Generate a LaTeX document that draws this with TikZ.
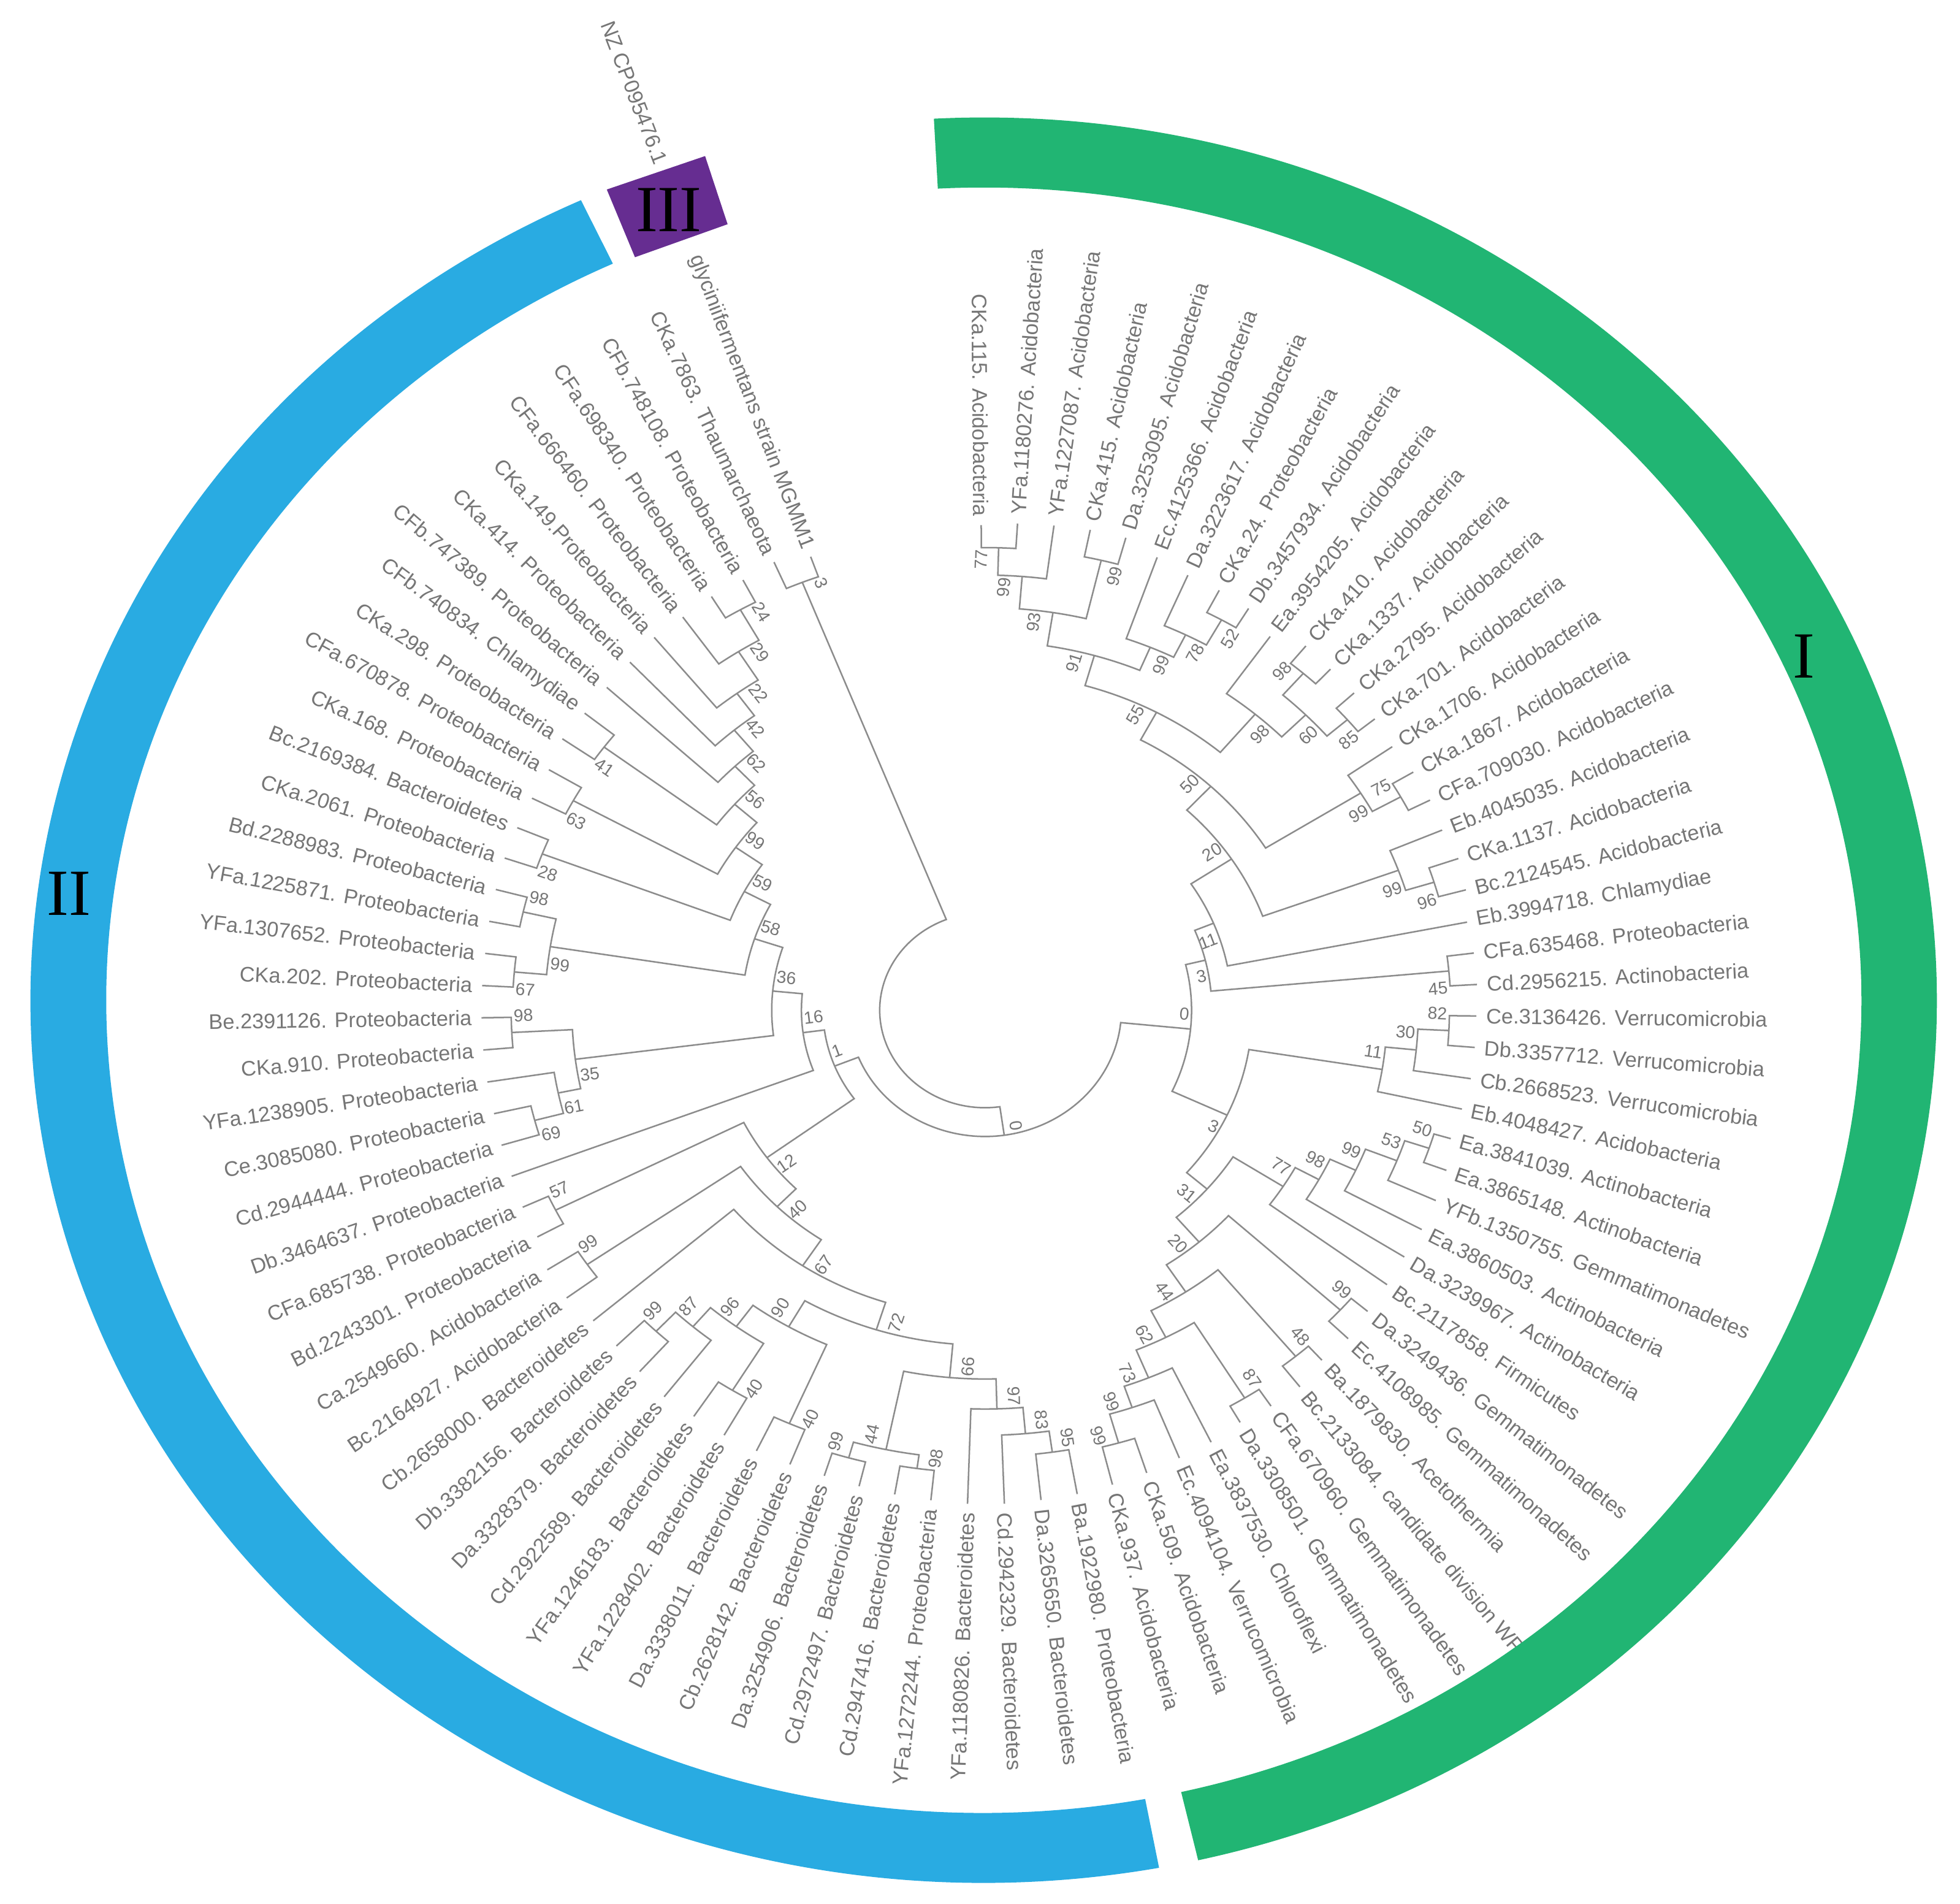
\documentclass[tikz,border=0pt]{standalone}
\usepackage{fontspec}
\setmainfont{Liberation Sans}
\newfontfamily\romanfont{Liberation Serif}
\definecolor{lc}{RGB}{140,140,140}
\definecolor{tc}{RGB}{118,118,118}
\definecolor{cgreen}{RGB}{33,181,115}
\definecolor{cblue}{RGB}{41,171,226}
\definecolor{cpurple}{RGB}{102,45,145}
\tikzset{
  br/.style={draw=lc,line width=0.7pt},
  leaflab/.style={text=tc,font=\fontsize{9.6}{11}\selectfont,inner sep=0pt},
  bslab/.style={text=tc,font=\fontsize{7.9}{9}\selectfont,inner sep=1pt},
  roman/.style={font=\romanfont\fontsize{30}{34}\selectfont,text=black,inner sep=0pt},
}
\newcommand\TLeaf[4]{%
  \pgfmathsetmacro\tla{109.6+(#2-1)*3.963}%
  \expandafter\xdef\csname tA#1\endcsname{\tla}%
  \expandafter\xdef\csname tR#1\endcsname{#3}%
  \pgfmathsetmacro\tlp{#3+7}%
  \pgfmathsetmacro\tlr{atan2(sin(\tla),1.08*cos(\tla))}%
  \pgfmathtruncatemacro\tll{(mod(\tla,360)>90)&&(mod(\tla,360)<270)}%
  \ifnum\tll=1
    \pgfmathsetmacro\tlr{\tlr+180}%
    \node[leaflab,anchor=east,rotate=\tlr] (#1) at (\tla:\tlp) {#4};%
  \else
    \node[leaflab,anchor=west,rotate=\tlr] (#1) at (\tla:\tlp) {#4};%
  \fi}
\newcommand\TNode[6]{%
  \pgfmathsetmacro\tna{\csname tA#2\endcsname}%
  \pgfmathsetmacro\tnb{\csname tA#3\endcsname}%
  \edef\tra{\csname tR#2\endcsname}%
  \edef\trb{\csname tR#3\endcsname}%
  \pgfmathsetmacro\tnm{(\tna+\tnb)/2}%
  \expandafter\xdef\csname tA#1\endcsname{\tnm}%
  \expandafter\xdef\csname tR#1\endcsname{#4}%
  \draw[br] (\tna:\tra) -- (\tna:#4) arc[start angle=\tna,end angle=\tnb,radius=#4] -- (\tnb:\trb);%
  \ifx\relax#5\relax\else
    \pgfmathsetmacro\tnp{\tnm+(#6)*(2.2-#4/300)}%
    \pgfmathsetmacro\tnr{atan2(sin(\tnm),1.08*cos(\tnm))}%
    \pgfmathtruncatemacro\tnl{(mod(\tnm,360)>90)&&(mod(\tnm,360)<270)}%
    \ifnum\tnl=1
      \pgfmathsetmacro\tnr{\tnr+180}%
      \ifnum#6>0 \def\tanc{north west}\else\def\tanc{south west}\fi
    \else
      \ifnum#6>0 \def\tanc{south east}\else\def\tanc{north east}\fi
    \fi
    \node[bslab,anchor=\tanc,rotate=\tnr] (b#1) at (\tnp:#4) {#5};%
  \fi}
\begin{document}
\begin{tikzpicture}[x=0.02cm,y=0.02cm]
\fill[white] (0,0) rectangle (1568,1522.4);
\useasboundingbox (0,0) rectangle (1568,1522.4);
\begin{scope}[shift={(788,714.4)},xscale=1.08]
\TLeaf{L1}{1}{385}{NZ CP095476.1\hspace{45pt}glyciniifermentans strain MGMM1}
\TLeaf{L2}{2}{391}{CKa.7863. Thaumarchaeota}
\TLeaf{L3}{3}{388}{CFb.748108. Proteobacteria}
\TLeaf{L4}{4}{388}{CFa.698340. Proteobacteria}
\TLeaf{L5}{5}{386}{CFa.666460. Proteobacteria}
\TLeaf{L6}{6}{386}{CKa.149.Proteobacteria}
\TLeaf{L7}{7}{383}{CKa.414. Proteobacteria}
\TLeaf{L8}{8}{381}{CFb.747389. Proteobacteria}
\TLeaf{L9}{9}{380}{CFb.740834. Chlamydiae}
\TLeaf{L10}{10}{381}{CKa.298. Proteobacteria}
\TLeaf{L11}{11}{376}{CFa.670878. Proteobacteria}
\TLeaf{L12}{12}{376}{CKa.168. Proteobacteria}
\TLeaf{L13}{13}{376}{Bc.2169384. Bacteroidetes}
\TLeaf{L14}{14}{376}{CKa.2061. Proteobacteria}
\TLeaf{L15}{15}{375}{Bd.2288983. Proteobacteria}
\TLeaf{L16}{16}{374}{YFa.1225871. Proteobacteria}
\TLeaf{L17}{17}{373}{YFa.1307652. Proteobacteria}
\TLeaf{L18}{18}{373}{CKa.202. Proteobacteria}
\TLeaf{L19}{19}{373}{Be.2391126. Proteobacteria}
\TLeaf{L20}{20}{373}{CKa.910. Proteobacteria}
\TLeaf{L21}{21}{373}{YFa.1238905. Proteobacteria}
\TLeaf{L22}{22}{373}{Ce.3085080. Proteobacteria}
\TLeaf{L23}{23}{374}{Cd.2944444. Proteobacteria}
\TLeaf{L24}{24}{375}{Db.3464637. Proteobacteria}
\TLeaf{L25}{25}{377}{CFa.685738. Proteobacteria}
\TLeaf{L26}{26}{378}{Bd.2243301. Proteobacteria}
\TLeaf{L27}{27}{385}{Ca.2549660. Acidobacteria}
\TLeaf{L28}{28}{386}{Bc.2164927. Acidobacteria}
\TLeaf{L29}{29}{382}{Cb.2658000. Bacteroidetes}
\TLeaf{L30}{30}{383}{Db.3382156. Bacteroidetes}
\TLeaf{L31}{31}{386}{Da.3328379. Bacteroidetes}
\TLeaf{L32}{32}{390}{Cd.2922589. Bacteroidetes}
\TLeaf{L33}{33}{390}{YFa.1246183. Bacteroidetes}
\TLeaf{L34}{34}{391}{YFa.1228402. Bacteroidetes}
\TLeaf{L35}{35}{391}{Da.3338011. Bacteroidetes}
\TLeaf{L36}{36}{391}{Cb.2628142. Bacteroidetes}
\TLeaf{L37}{37}{391}{Da.3254906. Bacteroidetes}
\TLeaf{L38}{38}{392}{Cd.2972497. Bacteroidetes}
\TLeaf{L39}{39}{393}{Cd.2947416. Bacteroidetes}
\TLeaf{L40}{40}{394}{YFa.1272244. Proteobacteria}
\TLeaf{L41}{41}{395}{YFa.1180826. Bacteroidetes}
\TLeaf{L42}{42}{395}{Cd.2942329. Bacteroidetes}
\TLeaf{L43}{43}{394}{Da.3265650. Bacteroidetes}
\TLeaf{L44}{44}{393}{Ba.1922980. Proteobacteria}
\TLeaf{L45}{45}{391}{CKa.937. Acidobacteria}
\TLeaf{L46}{46}{389}{CKa.509. Acidobacteria}
\TLeaf{L47}{47}{386}{Ec.4094104. Verrucomicrobia}
\TLeaf{L48}{48}{384}{Ea.3837530. Chloroflexi}
\TLeaf{L49}{49}{380}{Da.3308501. Gemmatimonadetes}
\TLeaf{L50}{50}{381}{CFa.670960. Gemmatimonadetes}
\TLeaf{L51}{51}{381}{Bc.2133084. candidate division WP}
\TLeaf{L52}{52}{375}{Ba.1879830. Acetothermia}
\TLeaf{L53}{53}{376}{Ec.4108985. Gemmatimonadetes}
\TLeaf{L54}{54}{372}{Da.3249436. Gemmatimonadetes}
\TLeaf{L55}{55}{370}{Bc.2117858. Firmicutes}
\TLeaf{L56}{56}{368}{Da.3239967. Actinobacteria}
\TLeaf{L57}{57}{368}{Ea.3860503. Actinobacteria}
\TLeaf{L58}{58}{367}{YFb.1350755. Gemmatimonadetes}
\TLeaf{L59}{59}{365}{Ea.3865148. Actinobacteria}
\TLeaf{L60}{60}{360}{Ea.3841039. Actinobacteria}
\TLeaf{L61}{61}{362}{Eb.4048427. Acidobacteria}
\TLeaf{L62}{62}{364}{Cb.2668523. Verrucomicrobia}
\TLeaf{L63}{63}{364}{Db.3357712. Verrucomicrobia}
\TLeaf{L64}{64}{364}{Ce.3136426. Verrucomicrobia}
\TLeaf{L65}{65}{365}{Cd.2956215. Actinobacteria}
\TLeaf{L66}{66}{365}{CFa.635468. Proteobacteria}
\TLeaf{L67}{67}{364}{Eb.3994718. Chlamydiae}
\TLeaf{L68}{68}{369}{Bc.2124545. Acidobacteria}
\TLeaf{L69}{69}{371}{CKa.1137. Acidobacteria}
\TLeaf{L70}{70}{368}{Eb.4045035. Acidobacteria}
\TLeaf{L71}{71}{370}{CFa.709030. Acidobacteria}
\TLeaf{L72}{72}{370}{CKa.1867. Acidobacteria}
\TLeaf{L73}{73}{368}{CKa.1706. Acidobacteria}
\TLeaf{L74}{74}{371}{CKa.701. Acidobacteria}
\TLeaf{L75}{75}{373}{CKa.2795. Acidobacteria}
\TLeaf{L76}{76}{374}{CKa.1337. Acidobacteria}
\TLeaf{L77}{77}{376}{CKa.410. Acidobacteria}
\TLeaf{L78}{78}{366}{Ea.3954205. Acidobacteria}
\TLeaf{L79}{79}{376}{Db.3457934. Acidobacteria}
\TLeaf{L80}{80}{378}{CKa.24. Proteobacteria}
\TLeaf{L81}{81}{379}{Da.3223617. Acidobacteria}
\TLeaf{L82}{82}{384}{Ec.4125366. Acidobacteria}
\TLeaf{L83}{83}{392}{Da.3253095. Acidobacteria}
\TLeaf{L84}{84}{392}{CKa.415. Acidobacteria}
\TLeaf{L85}{85}{391}{YFa.1227087. Acidobacteria}
\TLeaf{L86}{86}{390}{YFa.1180276. Acidobacteria}
\TLeaf{L87}{87}{388}{CKa.115. Acidobacteria}
% clade III
\TNode{n3}{L1}{L2}{368}{3}{-1}
% clade II upper
\TNode{n24}{L3}{L4}{368}{24}{-1}
\TNode{n29}{n24}{L5}{340}{29}{-1}
\TNode{n22}{n29}{L6}{313}{22}{-1}
\TNode{n42}{n22}{L7}{291}{42}{-1}
\TNode{n62}{n42}{L8}{269}{62}{-1}
\TNode{n41}{L9}{L10}{352}{41}{1}
\TNode{n56}{n62}{n41}{248}{56}{-1}
\TNode{n63}{L11}{L12}{348}{63}{1}
\TNode{n99u}{n56}{n63}{226}{99}{-1}
\TNode{n28}{L13}{L14}{351}{28}{1}
\TNode{n59}{n99u}{n28}{202}{59}{-1}
\TNode{n98a}{L15}{L16}{351}{98}{-1}
\TNode{n67a}{L17}{L18}{350}{67}{1}
\TNode{n99a}{n98a}{n67a}{326}{99}{1}
\TNode{n58}{n59}{n99a}{180}{58}{-1}
\TNode{n98c}{L19}{L20}{351}{98}{-1}
\TNode{n69}{L22}{L23}{345}{69}{1}
\TNode{n61}{L21}{n69}{323}{61}{1}
\TNode{n35}{n98c}{n61}{306}{35}{1}
\TNode{n36}{n58}{n35}{158}{36}{-1}
\TNode{n16}{n36}{L24}{136}{16}{-1}
% clade II lower
\TNode{n57}{L25}{L26}{356}{57}{-1}
\TNode{n99e}{L27}{L28}{358}{99}{-1}
\TNode{n99f}{L30}{L31}{354}{99}{-1}
\TNode{n87b}{n99f}{L32}{333}{87}{-1}
\TNode{n40a}{L33}{L34}{357}{40}{1}
\TNode{n96b}{n87b}{n40a}{313}{96}{-1}
\TNode{n40b}{L35}{L36}{361}{40}{1}
\TNode{n90}{n96b}{n40b}{292}{90}{-1}
\TNode{n99g}{L37}{L38}{372}{99}{-1}
\TNode{n98d}{L39}{L40}{370}{98}{1}
\TNode{n44b}{n99g}{n98d}{359}{44}{-1}
\TNode{n95}{L43}{L44}{357}{95}{1}
\TNode{n83}{L42}{n95}{340}{83}{1}
\TNode{n97}{L41}{n83}{319}{97}{1}
\TNode{n66}{n44b}{n97}{295}{66}{1}
\TNode{n72}{n90}{n66}{268}{72}{1}
\TNode{n67c}{L29}{n72}{245}{67}{1}
\TNode{n40c}{n99e}{n67c}{220}{40}{1}
\TNode{n12}{n57}{n40c}{200}{12}{1}
\TNode{n1}{n16}{n12}{120}{1}{-1}
% clade I upper
\TNode{n77a}{L86}{L87}{370}{77}{1}
\TNode{n99A2}{L85}{n77a}{348}{99}{1}
\TNode{n99A3}{L83}{L84}{370}{99}{-1}
\TNode{n93}{n99A3}{n99A2}{322}{93}{1}
\TNode{n52}{L79}{L80}{358}{52}{-1}
\TNode{n78}{n52}{L81}{335}{78}{-1}
\TNode{n99Ec}{n78}{L82}{315}{99}{-1}
\TNode{n91}{n99Ec}{n93}{295}{91}{1}
\TNode{n98u}{L76}{L77}{358}{98}{1}
\TNode{n85}{L74}{L75}{355}{85}{-1}
\TNode{n60}{n85}{n98u}{335}{60}{-1}
\TNode{n98l}{n60}{L78}{310}{98}{-1}
\TNode{n55}{n98l}{n91}{270}{55}{1}
\TNode{n75}{L71}{L72}{352}{75}{1}
\TNode{n99b}{n75}{L73}{328}{99}{-1}
\TNode{n50}{n99b}{n55}{245}{50}{1}
\TNode{n96}{L68}{L69}{348}{96}{-1}
\TNode{n99c}{n96}{L70}{326}{99}{-1}
\TNode{n20u}{n99c}{n50}{219}{20}{1}
\TNode{n11u}{L67}{n20u}{183}{11}{-1}
\TNode{n45}{L65}{L66}{345}{45}{-1}
\TNode{n3u}{n45}{n11u}{168}{3}{-1}
% clade I lower
\TNode{n82}{L63}{L64}{344}{82}{1}
\TNode{n30}{L62}{n82}{321}{30}{1}
\TNode{n11v}{L61}{n30}{298}{11}{1}
\TNode{n50b}{L59}{L60}{347}{50}{1}
\TNode{n53}{L58}{n50b}{328}{53}{1}
\TNode{n99d}{L57}{n53}{303}{99}{1}
\TNode{n98b}{L56}{n99d}{282}{98}{1}
\TNode{n77}{L55}{n98b}{262}{77}{1}
\TNode{n99z}{L53}{L54}{356}{99}{1}
\TNode{n48}{L51}{L52}{360}{48}{1}
\TNode{n87}{L49}{L50}{365}{87}{1}
\TNode{n99x}{L45}{L46}{360}{99}{-1}
\TNode{n99y}{n99x}{L47}{336}{99}{-1}
\TNode{n73}{n99y}{L48}{318}{73}{-1}
\TNode{n62b}{n73}{n87}{294}{62}{-1}
\TNode{n44}{n62b}{n48}{270}{44}{-1}
\TNode{n20l}{n44}{n99z}{244}{20}{-1}
\TNode{n31}{n20l}{n77}{218}{31}{-1}
\TNode{n3l}{n31}{n11v}{198}{3}{-1}
\TNode{nR0}{n3l}{n3u}{153}{0}{1}
\TNode{n0}{n1}{nR0}{101}{0}{1}
\TNode{root}{n3}{n0}{78}{}{1}
\end{scope}
% outer ring
\begin{scope}[shift={(787,722.4)},xscale=1.08]
\fill[cgreen] (93:706) arc[start angle=93,end angle=-77,radius=706] -- (-77:650) arc[start angle=-77,end angle=93,radius=650] -- cycle;
\fill[cblue] (115:706) arc[start angle=115,end angle=280.6,radius=706] -- (280.6:650) arc[start angle=280.6,end angle=115,radius=650] -- cycle;
\fill[cpurple] (107:706) -- (113.3:706) -- (113.5:648) -- (107:649) -- cycle;
\end{scope}
\node[roman] (rI) at (1443,997.4) {I};
\node[roman] (rII) at (55,807.4) {II};
\node[roman] (rIII) at (535,1354.4) {III};
\end{tikzpicture}
\end{document}
